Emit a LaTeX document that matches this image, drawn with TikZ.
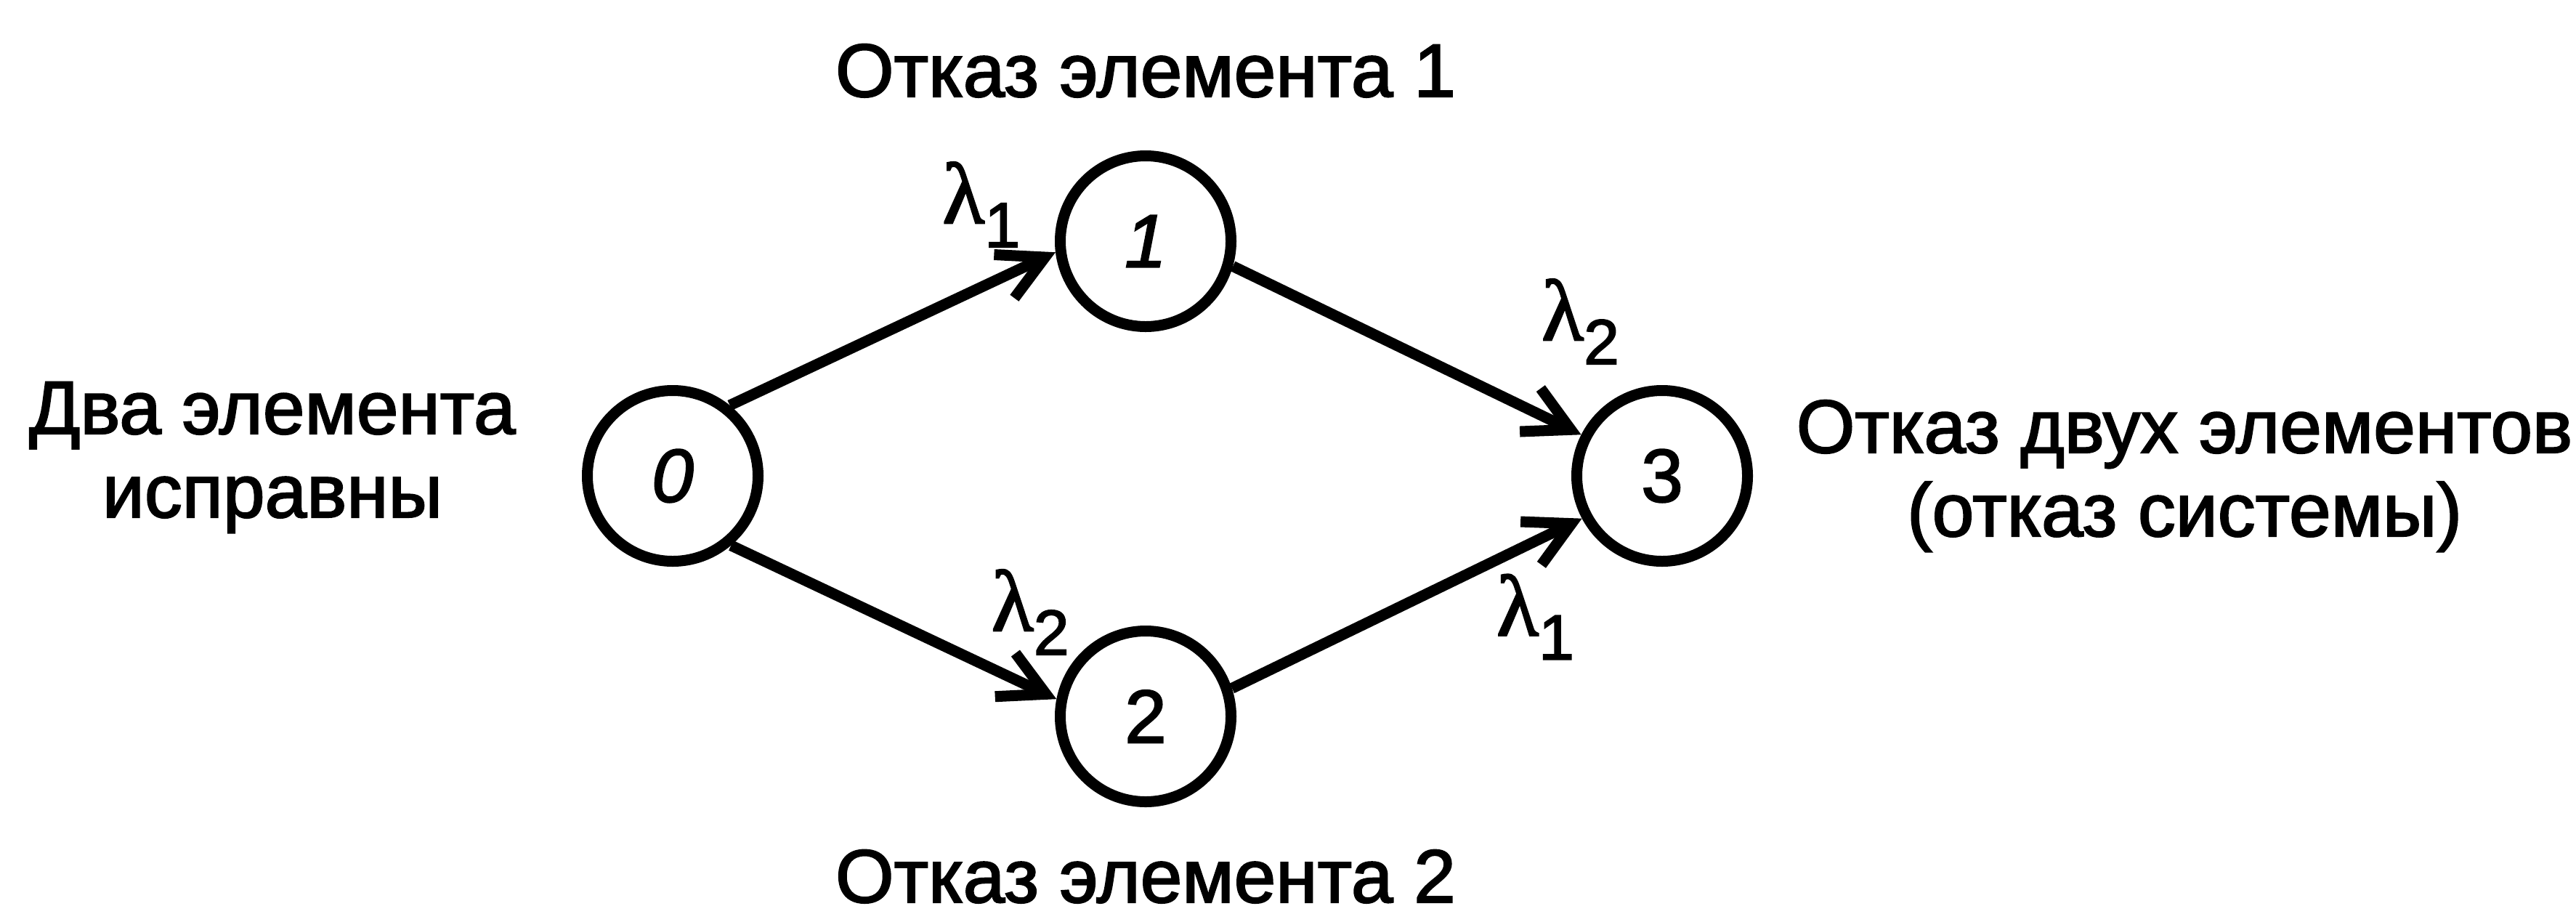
\documentclass[tikz,border=0pt]{standalone}
\usepackage{fontspec}
\setmainfont[FakeBold=2]{Liberation Sans}
\newfontfamily\lamfont[FakeBold=2]{Liberation Serif}
\usetikzlibrary{positioning,arrows.meta}

\newcommand{\lamb}[1]{{\lamfont\fontsize{34}{34}\selectfont λ}\raisebox{-0.33cm}{\fontsize{25}{25}\selectfont #1}}

\tikzset{
  estilo grafo/.style={
      estado/.style={circle, draw, line width=0.15cm, minimum size=2.35cm, inner sep=0pt},
      transicion/.style={-{Straight Barb[length=0.62cm, width=0.66cm]}, line width=0.15cm},
      tasa/.style={inner sep=0pt, anchor=base west},
      rotulo/.style={align=center, inner sep=0pt},
      every node/.style={font={\fontsize{29.5}{32.7}\selectfont}},
    },
}

\begin{document}
\begin{tikzpicture}[estilo grafo]
  \useasboundingbox (-9.26,6.55) rectangle (26.20,-5.91);
  \node[estado] (0) {\itshape 0};
  \node[estado, on grid, above right=3.23cm and 6.51cm of 0] (1) {\itshape 1};
  \node[estado, on grid, below right=3.31cm and 6.51cm of 0] (2) {2};
  \node[estado, on grid, right=13.62cm of 0] (3) {3};

  \node[rotulo, above=0.74cm of 1, anchor=base] (f1) {Отказ элемента 1};
  \node[rotulo, below=1.31cm of 2, anchor=base] (f2) {Отказ элемента 2};
  \node[rotulo, anchor=base] (ok) at (-5.51,-0.57) {Два элемента\\исправны};
  \node[rotulo, anchor=base] (fs) at (20.81,-0.83) {Отказ двух элементов\\(отказ системы)};

  \draw[transicion] (0.51) -- node[tasa, pos=1, xshift=-1.63cm, yshift=0.40cm] {\lamb{1}} (1.187);
  \draw[transicion] (0.310) -- node[tasa, pos=1, xshift=-0.97cm, yshift=0.94cm] {\lamb{2}} (2.169);
  \draw[transicion] (1.344) -- node[tasa, pos=1, xshift=-0.62cm, yshift=1.30cm] {\lamb{2}} (3.153);
  \draw[transicion] (2.18) -- node[tasa, pos=1, xshift=-1.25cm, yshift=-1.61cm] {\lamb{1}} (3.208);
\end{tikzpicture}
\end{document}
